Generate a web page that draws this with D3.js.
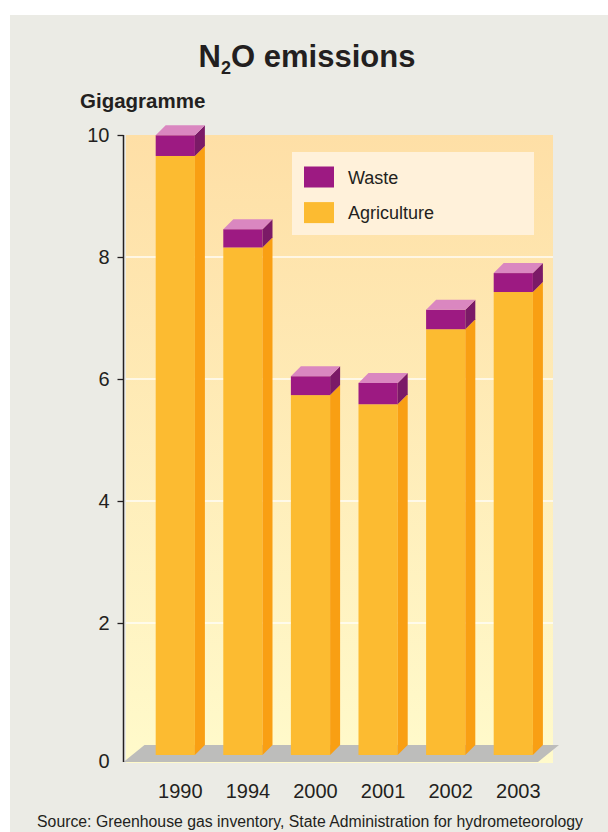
<!DOCTYPE html>
<html>
<head>
<meta charset="utf-8">
<script src="https://cdn.jsdelivr.net/npm/d3@7"></script>
<style>
  html, body { margin: 0; padding: 0; background: #ffffff; }
  svg { display: block; }
  text { font-family: "Liberation Sans", Arial, Helvetica, sans-serif; fill: #231f20; }
</style>
</head>
<body>
<svg id="chart" width="608" height="832"></svg>
<script>
// ---- Data ----
const years = ["1990", "1994", "2000", "2001", "2002", "2003"];
const agriculture = [9.82, 8.32, 5.90, 5.75, 6.98, 7.59];
const waste = [0.34, 0.30, 0.31, 0.35, 0.32, 0.31];
const seriesNames = ["Waste", "Agriculture"];
const yTicks = [0, 2, 4, 6, 8, 10];
const titleMain = "N";
const titleSub = "2";
const titleRest = "O emissions";
const unitLabel = "Gigagramme";
const sourceText = "Source: Greenhouse gas inventory, State Administration for hydrometeorology";

// ---- Layout ----
const W = 608, H = 832;
const plot = { left: 126, right: 553, top: 135, bottom: 763 };
const axisX = 123.5;
const depthX = 10, depthY = 10;       // bar 3D depth
const floorDX = 21, floorDY = 17;     // floor depth

const colors = {
  bg: "#ebebe5",
  agriFront: "#fcbb31", agriSide: "#f99f13",
  wasteFront: "#9d1a82", wasteSide: "#7b1a67", wasteTop: "#da87c0",
  floor: "#bdbdbb", legendBg: "#fff1da"
};

const svg = d3.select("#chart");
const defs = svg.append("defs");
const grad = defs.append("linearGradient").attr("id", "plotGrad")
  .attr("x1", 0).attr("y1", 0).attr("x2", 0).attr("y2", 1);
grad.append("stop").attr("offset", "0%").attr("stop-color", "#fedfa6");
grad.append("stop").attr("offset", "100%").attr("stop-color", "#fffacb");

// background panel
svg.append("rect").attr("x", 10).attr("y", 15).attr("width", W - 10).attr("height", H - 15)
  .attr("fill", colors.bg);

// scales
const y = d3.scaleLinear().domain([0, 10]).range([745, 135]);
const x = d3.scaleBand().domain(years).range([141.5, 547.1])
  .paddingInner(0.42).paddingOuter(0.21);

// plot area
svg.append("rect").attr("x", plot.left).attr("y", plot.top)
  .attr("width", plot.right - plot.left).attr("height", plot.bottom - plot.top)
  .attr("fill", "url(#plotGrad)");

// gridlines (back wall)
svg.append("g").selectAll("line").data(yTicks.filter(d => d > 0 && d < 10)).join("line")
  .attr("x1", plot.left).attr("x2", plot.right)
  .attr("y1", d => y(d)).attr("y2", d => y(d))
  .attr("stroke", "#ffffff").attr("stroke-width", 1.3).attr("opacity", 0.9);

// floor
const f0 = y(0);
const floorLeft = axisX, floorRight = 538;
svg.append("path")
  .attr("d", `M${floorLeft},${f0 + floorDY} L${floorRight},${f0 + floorDY} L${floorRight + floorDX},${f0} L${floorLeft + floorDX},${f0} Z`)
  .attr("fill", colors.floor);

// stacked data
const data = years.map((yr, i) => ({ year: yr, agri: agriculture[i], waste: waste[i] }));

const bars = svg.append("g").selectAll("g").data(data).join("g");

function face(pts) { return "M" + pts.map(p => p.join(",")).join("L") + "Z"; }

bars.each(function(d) {
  const g = d3.select(this);
  const xl = x(d.year), xr = x(d.year) + x.bandwidth();
  const yB = y(0) + depthY;
  const yA = y(d.agri) + depthY;
  const yT = y(d.agri + d.waste) + depthY;
  // agriculture front & side
  g.append("rect").attr("x", xl).attr("y", yA).attr("width", xr - xl).attr("height", yB - yA)
    .attr("fill", colors.agriFront);
  g.append("path").attr("d", face([[xr, yA], [xr + depthX, yA - depthY], [xr + depthX, yB - depthY], [xr, yB]]))
    .attr("fill", colors.agriSide);
  // waste front, side, top
  g.append("rect").attr("x", xl).attr("y", yT).attr("width", xr - xl).attr("height", yA - yT)
    .attr("fill", colors.wasteFront);
  g.append("path").attr("d", face([[xr, yT], [xr + depthX, yT - depthY], [xr + depthX, yA - depthY], [xr, yA]]))
    .attr("fill", colors.wasteSide);
  g.append("path").attr("d", face([[xl, yT], [xl + depthX, yT - depthY], [xr + depthX, yT - depthY], [xr, yT]]))
    .attr("fill", colors.wasteTop);
});

// y axis
const axisG = svg.append("g").attr("transform", `translate(${axisX},0)`)
  .call(d3.axisLeft(y).tickValues(yTicks).tickSize(6).tickPadding(8).tickFormat(d3.format("d")));
axisG.select(".domain").remove();
axisG.selectAll("line").attr("stroke", "#231f20").attr("stroke-width", 1.3);
axisG.selectAll("text").attr("font-size", 20).attr("fill", "#231f20")
  .style("font-family", '"Liberation Sans", Arial, sans-serif');
// zero sits at the front of the floor
axisG.selectAll(".tick").filter(d => d === 0)
  .attr("transform", `translate(0,${y(0) + floorDY})`)
  .select("line").remove();
svg.append("line").attr("x1", axisX).attr("x2", axisX)
  .attr("y1", y(10)).attr("y2", y(0) + floorDY)
  .attr("stroke", "#231f20").attr("stroke-width", 1.5);

// x labels
svg.append("g").selectAll("text").data(years).join("text")
  .attr("x", d => x(d) + (x.bandwidth() + depthX) / 2)
  .attr("y", 798)
  .attr("text-anchor", "middle").attr("font-size", 20)
  .text(d => d);

// title
const title = svg.append("text").attr("x", 307).attr("y", 67)
  .attr("text-anchor", "middle").attr("font-size", 31).attr("font-weight", "bold");
title.append("tspan").text(titleMain);
title.append("tspan").attr("font-size", 18).attr("dy", 7).text(titleSub);
title.append("tspan").attr("dy", -7).text(titleRest);

// unit label
svg.append("text").attr("x", 80).attr("y", 108).attr("font-size", 20.5)
  .attr("font-weight", "bold").text(unitLabel);

// legend
const leg = svg.append("g");
leg.append("rect").attr("x", 292).attr("y", 152).attr("width", 242).attr("height", 83)
  .attr("fill", colors.legendBg);
const legColors = [colors.wasteFront, colors.agriFront];
const li = leg.selectAll("g").data(seriesNames).join("g")
  .attr("transform", (d, i) => `translate(304,${166.5 + i * 35.6})`);
li.append("rect").attr("width", 30).attr("height", 21).attr("fill", (d, i) => legColors[i]);
li.append("text").attr("x", 44).attr("y", 17).attr("font-size", 18).text(d => d);

// source
svg.append("text").attr("x", 310).attr("y", 827).attr("text-anchor", "middle")
  .attr("font-size", 15.8).text(sourceText);
</script>
</body>
</html>
